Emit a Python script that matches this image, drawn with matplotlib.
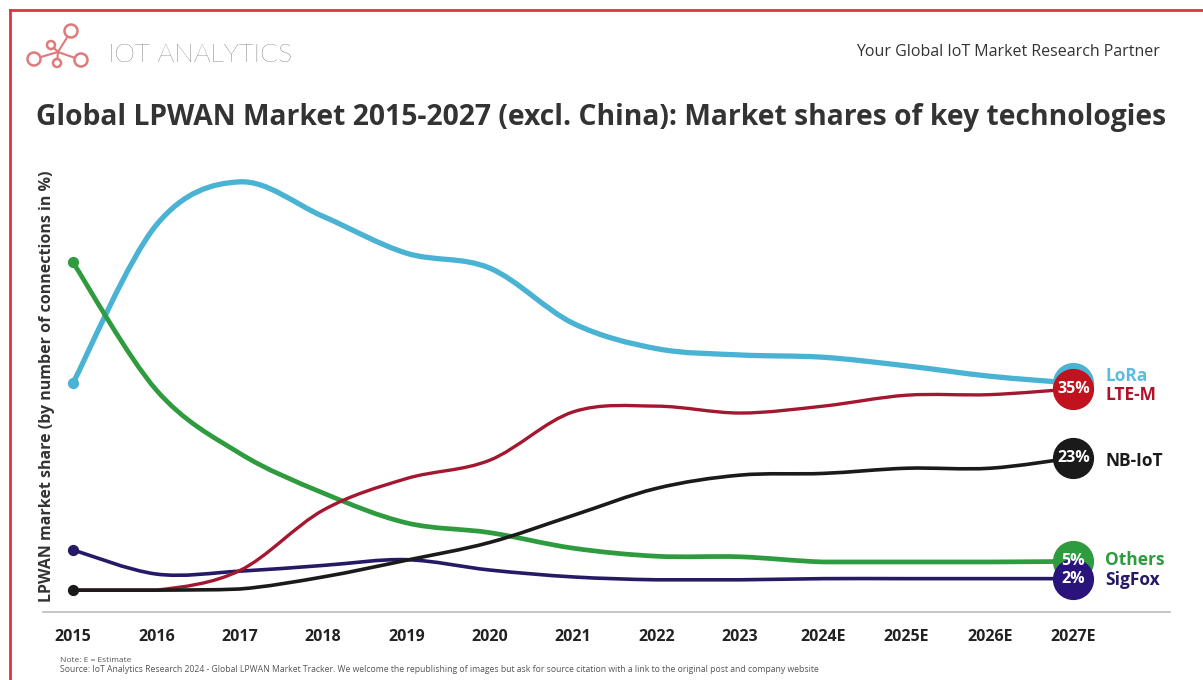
## LPWAN MARKET SHARES LINE CHART
import matplotlib
matplotlib.use("Agg")
import matplotlib.pyplot as plt
from matplotlib.path import Path
from matplotlib.patches import PathPatch, Circle
import numpy as np

years = [2015, 2016, 2017, 2018, 2019, 2020, 2021, 2022, 2023, 2024, 2025, 2026, 2027]
year_labels = ["2015", "2016", "2017", "2018", "2019", "2020", "2021", "2022", "2023",
               "2024E", "2025E", "2026E", "2027E"]

lora = [36, 63.5, 71, 65, 58.6, 56, 46.4, 42, 40.9, 40.5, 39, 37.2, 36]
lte_m = [0, 0, 3.4, 13.9, 19.4, 22.6, 31, 32, 30.8, 32, 33.9, 34, 35]
nb_iot = [0, 0, 0.2, 2.3, 5.2, 8.3, 13, 17.7, 20, 20.3, 21.2, 21.2, 23]
others = [57, 34.8, 23.8, 16.9, 11.7, 10, 7.3, 5.9, 5.8, 4.9, 4.9, 4.9, 5]
sigfox = [7, 2.8, 3.3, 4.3, 5.3, 3.5, 2.3, 1.8, 1.8, 2, 2, 2, 2]

end_labels = {"LoRa": "", "LTE-M": "35%", "NB-IoT": "23%", "Others": "5%", "SigFox": "2%"}

# name, values, line colour, circle colour, line width
series = [
    ("LoRa", lora, "#4ab3d4", "#4ab3d4", 3.8),
    ("Others", others, "#2f9b3f", "#2f9b3f", 3.4),
    ("SigFox", sigfox, "#261a66", "#2a137a", 2.6),
    ("LTE-M", lte_m, "#a3172f", "#c0121f", 2.4),
    ("NB-IoT", nb_iot, "#1a1a1a", "#1a1a1a", 2.6),
]
label_y = {"LoRa": 37.2, "LTE-M": 33.9, "NB-IoT": 22.4, "Others": 5.2, "SigFox": 1.7}
label_col = {"LoRa": "#5bbbe0", "LTE-M": "#b0122a", "NB-IoT": "#1a1a1a",
             "Others": "#2f9b3f", "SigFox": "#261a66"}


def smooth_path(x, y):
    # catmull-rom as bezier segments, control points kept above the series minimum
    x = np.asarray(x, float)
    y = np.asarray(y, float)
    lo = y.min()
    verts = [(x[0], y[0])]
    codes = [Path.MOVETO]
    n = len(x)
    for i in range(n - 1):
        x0, y0 = (x[i - 1], y[i - 1]) if i > 0 else (x[i], y[i])
        x3, y3 = (x[i + 2], y[i + 2]) if i + 2 < n else (x[i + 1], y[i + 1])
        c1 = (x[i] + (x[i + 1] - x0) / 6, max(lo, y[i] + (y[i + 1] - y0) / 6))
        c2 = (x[i + 1] - (x3 - x[i]) / 6, max(lo, y[i + 1] - (y3 - y[i]) / 6))
        verts += [c1, c2, (x[i + 1], y[i + 1])]
        codes += [Path.CURVE4] * 3
    return Path(verts, codes)


plt.rcParams["font.family"] = ["Open Sans", "DejaVu Sans"]
fig = plt.figure(figsize=(12.03, 6.8), dpi=100)

ax = fig.add_axes([0.0357, 0.1, 0.9369, 0.6647])
ax.set_xlim(2014.64, 2028.16)
ax.set_ylim(-3.8, 74.8)

for name, vals, col, ccol, lw in series:
    ax.add_patch(PathPatch(smooth_path(years, vals), fill=False, edgecolor=col,
                           lw=lw, capstyle="round", joinstyle="round"))
    if name != "LTE-M":
        ax.scatter([years[0]], [vals[0]], s=50, color=col, zorder=3)

# end circles
for name, vals, col, ccol, lw in series:
    ax.scatter([years[-1]], [vals[-1]], s=820, color=ccol, zorder=4, clip_on=False)
    if end_labels[name]:
        ax.text(years[-1], vals[-1], end_labels[name], color="white", fontsize=11.5,
                fontweight="bold", ha="center", va="center", zorder=5)
    ax.text(years[-1] + 0.38, label_y[name], name, color=label_col[name],
            fontsize=12.5, fontweight="bold", ha="left", va="center")

ax.set_xticks(years)
ax.set_xticklabels(year_labels, fontsize=11.5, fontweight="bold", color="#222222")
ax.set_yticks([])
ax.tick_params(axis="x", length=0, pad=12)
for s in ["top", "right", "left"]:
    ax.spines[s].set_visible(False)
ax.spines["bottom"].set_color("#bbbbbb")
ax.spines["bottom"].set_linewidth(1.2)
ax.set_ylabel("LPWAN market share (by number of connections in %)", fontsize=11.5,
              fontweight="bold", color="#333333")
ax.yaxis.set_label_coords(0.011, 0.5)

# decoration layer in pixel coordinates
deco = fig.add_axes([0, 0, 1, 1], zorder=-1)
deco.set_xlim(0, 1203)
deco.set_ylim(680, 0)
deco.axis("off")
deco.plot([10, 1203], [10, 10], color="#d9363e", lw=2)
deco.plot([10, 10], [10, 680], color="#d9363e", lw=2)

hub = (58, 52)
logo_col = "#e07a7a"
for px, py in [(71, 31), (34, 59), (81, 60), (51, 45), (57, 63)]:
    deco.plot([hub[0], px], [hub[1], py], color=logo_col, lw=1.5)
for (px, py), r in [((71, 31), 6.5), ((34, 59), 6.5), ((81, 60), 6.5), ((51, 45), 4), ((57, 63), 4)]:
    deco.add_patch(Circle((px, py), r, facecolor="white", edgecolor=logo_col, lw=1.8, zorder=3))

fig.text(108 / 1203, 1 - 55 / 680, "IOT ANALYTICS", fontsize=19, color="#2e2e2e",
         fontweight="light", ha="left", va="center", family=["Lato", "DejaVu Sans"])
fig.text(1160 / 1203, 1 - 52 / 680, "Your Global IoT Market Research Partner", fontsize=11.5,
         color="#333333", ha="right", va="center")
fig.text(601 / 1203, 1 - 117 / 680,
         "Global LPWAN Market 2015-2027 (excl. China): Market shares of key technologies",
         fontsize=20.3, fontweight="bold", color="#333333", ha="center", va="center")
fig.text(60 / 1203, 1 - 660 / 680, "Note: E = Estimate", fontsize=6, color="#555555", ha="left", va="center")
fig.text(60 / 1203, 1 - 670 / 680,
         "Source: IoT Analytics Research 2024 - Global LPWAN Market Tracker. We welcome the republishing of images "
         "but ask for source citation with a link to the original post and company website",
         fontsize=6.2, color="#555555", ha="left", va="center")

fig.savefig("out.png", dpi=100)
